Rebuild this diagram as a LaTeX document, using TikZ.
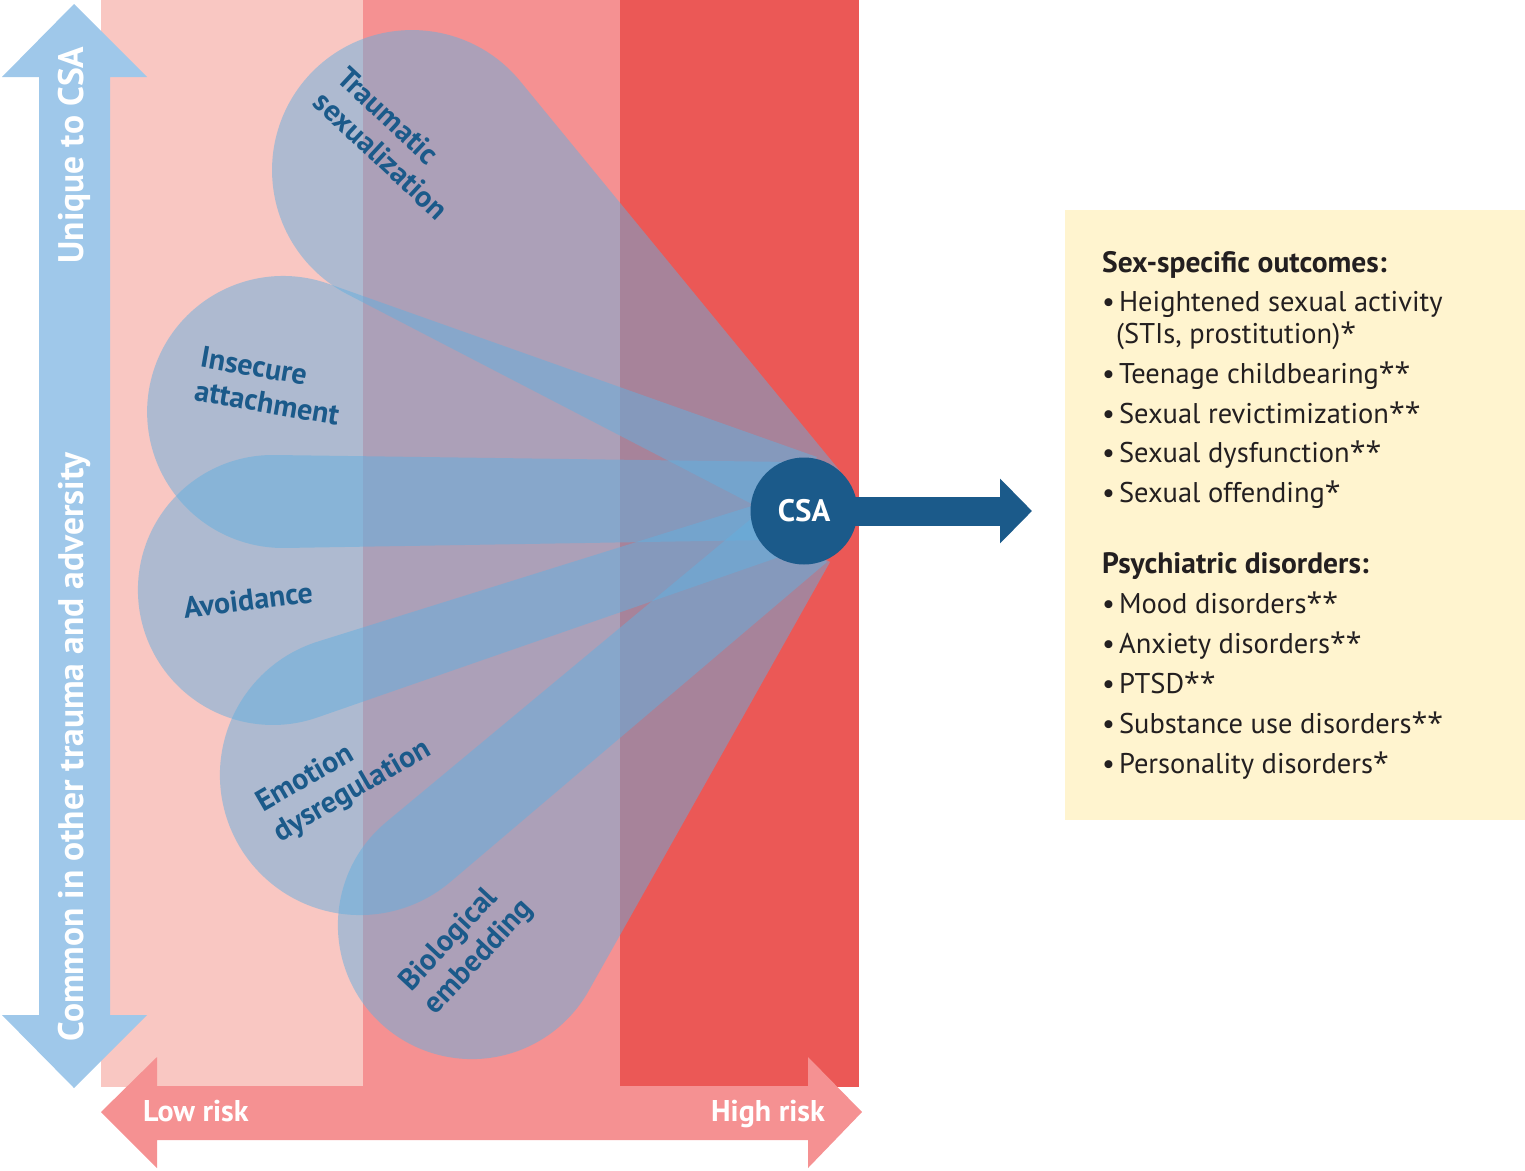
\documentclass[tikz,border=0pt]{standalone}
\usepackage{fontspec}
\setmainfont{PT Sans}
\newfontfamily\astfont{Open Sans}
\usetikzlibrary{arrows.meta}
\definecolor{lpink}{HTML}{F9C7C2}
\definecolor{mpink}{HTML}{F59192}
\definecolor{rred}{HTML}{EB5856}
\definecolor{ablue}{HTML}{9FC8EA}
\definecolor{petalc}{HTML}{64AFDE}
\definecolor{dblue}{HTML}{1B5A8A}
\definecolor{cream}{HTML}{FFF4CF}
\definecolor{ink}{HTML}{231F20}
\newcommand{\bul}{•\kern4pt}
\newcommand{\sst}{{\astfont *}}
\begin{document}
\begin{tikzpicture}[x=1pt,y=-1pt,
  petal/.style={fill=petalc, fill opacity=0.5},
  plabel/.style={text=dblue, font=\fontsize{30}{34}\selectfont\bfseries, align=left, inner sep=0},
  axtext/.style={text=white, font=\fontsize{35.5}{36}\selectfont\bfseries, inner sep=0},
  risktext/.style={text=white, font=\fontsize{30}{30}\selectfont\bfseries, inner sep=0},
  listtext/.style={anchor=base west, inner sep=0, text=ink, font=\fontsize{28.5}{32}\selectfont},
  listhead/.style={listtext, font=\fontsize{29.5}{32}\selectfont\bfseries}]
\useasboundingbox (0,0) rectangle (1525,1170);
% columns
\fill[lpink] (101,0) rectangle (363,1087);
\fill[mpink] (363,0) rectangle (620,1087);
\fill[rred] (620,0) rectangle (859,1087);
% vertical double arrow
\fill[ablue] (74,4) -- (147,77) -- (110,77) -- (110,1015) -- (147,1015) -- (74,1088)
  -- (2,1015) -- (39,1015) -- (39,77) -- (2,77) -- cycle;
% horizontal double arrow
\fill[mpink] (101,1112) -- (157,1057) -- (157,1086) -- (808,1086) -- (808,1057) -- (862,1112)
  -- (808,1168) -- (808,1140) -- (157,1140) -- (157,1168) -- cycle;
% petals
\fill[petal] (840,471) -- (520.2,81.2) arc[start angle=-39.4, end angle=-242.6, radius=140] -- (750,503) -- cycle;
\fill[petal] (817,457) -- (328.5,283.8) arc[start angle=-70.5, end angle=-271, radius=136] -- (765,540) -- cycle;
\fill[petal] (790,462) -- (274.8,455.0) arc[start angle=-89.2, end angle=-289.2, radius=135] -- (785,555) -- cycle;
\fill[petal] (755,505) -- (318.3,641.4) arc[start angle=-107.3, end angle=-310.4, radius=140] -- (827,562) -- cycle;
\fill[petal] (752,518) -- (386.3,822.0) arc[start angle=-129.7, end angle=-330.6, radius=134] -- (830,562) -- cycle;
% petal labels
\node[plabel, rotate=-43] (ltrau) at (393,143) {Traumatic\\sexualization};
\node[plabel, rotate=-10] (linse) at (270,386) {Insecure\\attachment};
\node[plabel, rotate=7] (lavoi) at (248,600) {Avoidance};
\node[plabel, rotate=30] (lemot) at (344,777) {Emotion\\dysregulation};
\node[plabel, rotate=47] (lbiol) at (467,946) {Biological\\embedding};
% axis texts
\node[axtext, rotate=90, anchor=base] (luniq) at (83,155) {Unique to CSA};
\node[axtext, rotate=90, anchor=base] (lcomm) at (83,747) {Common in other trauma and adversity};
\node[risktext, anchor=base west] (llow) at (143,1121) {Low risk};
\node[risktext, anchor=base east] (lhigh) at (825,1121) {High risk};
% CSA node and arrow
\node[circle, fill=dblue, minimum size=107, inner sep=0, text=white,
  font=\fontsize{31}{31}\selectfont\bfseries] (csa) at (804,511) {CSA};
\coordinate (arrtip) at (1032,511);
\draw[dblue, line width=29, shorten <=-8pt, -{Triangle[length=32pt, width=63pt]}] (csa) -- (arrtip);
% outcome box
\node[fill=cream, minimum width=460, minimum height=610, anchor=north west, inner sep=0] (outbox) at (1065,210) {};
\node[listhead] (h1) at (1102,272) {Sex-specific outcomes:};
\node[listtext] (a1) at (1102,311) {\bul Heightened sexual activity};
\node[listtext] (a1b) at (1116,343.5) {(STIs, prostitution)\sst};
\node[listtext] (a2) at (1102,383.5) {\bul Teenage childbearing\sst\sst};
\node[listtext] (a3) at (1102,423) {\bul Sexual revictimization\sst\sst};
\node[listtext] (a4) at (1102,462.5) {\bul Sexual dysfunction\sst\sst};
\node[listtext] (a5) at (1102,502) {\bul Sexual offending\sst};
\node[listhead] (h2) at (1102,573.5) {Psychiatric disorders:};
\node[listtext] (b1) at (1102,613.5) {\bul Mood disorders\sst\sst};
\node[listtext] (b2) at (1102,653.5) {\bul Anxiety disorders\sst\sst};
\node[listtext] (b3) at (1102,693.5) {\bul PTSD\sst\sst};
\node[listtext] (b4) at (1102,733) {\bul Substance use disorders\sst\sst};
\node[listtext] (b5) at (1102,773.5) {\bul Personality disorders\sst};
\end{tikzpicture}
\end{document}
